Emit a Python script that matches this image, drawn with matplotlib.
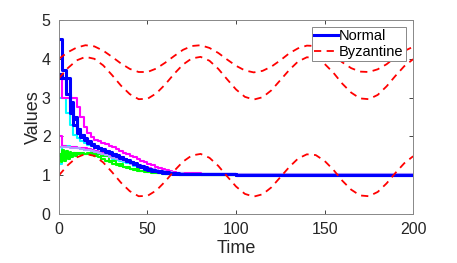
import matplotlib
matplotlib.use("Agg")
import matplotlib.pyplot as plt

plt.rcParams["font.family"] = ["Liberation Sans", "DejaVu Sans"]

# Byzantine agents: values every 5 time units
t_byz = list(range(0, 201, 5))
byz_top = [4.00, 4.17, 4.29, 4.35, 4.32, 4.21, 4.05, 3.88, 3.74, 3.66, 3.66, 3.75, 3.90, 4.07,
           4.23, 4.33, 4.35, 4.28, 4.15, 3.98, 3.82, 3.70, 3.65, 3.69, 3.80, 3.96, 4.14, 4.27,
           4.34, 4.33, 4.24, 4.09, 3.91, 3.76, 3.67, 3.66, 3.73, 3.86, 4.04, 4.20, 4.31]
byz_mid = [3.50, 3.76, 3.96, 4.05, 4.00, 3.83, 3.58, 3.31, 3.09, 2.96, 2.97, 3.11, 3.34, 3.61,
           3.85, 4.01, 4.05, 3.95, 3.74, 3.47, 3.21, 3.02, 2.95, 3.01, 3.19, 3.45, 3.71, 3.93,
           4.04, 4.02, 3.87, 3.64, 3.36, 3.13, 2.98, 2.96, 3.07, 3.29, 3.56, 3.81, 3.99]
byz_low = [1.00, 1.26, 1.46, 1.55, 1.50, 1.33, 1.08, 0.81, 0.59, 0.46, 0.47, 0.61, 0.84, 1.11,
           1.35, 1.51, 1.55, 1.45, 1.24, 0.97, 0.71, 0.52, 0.45, 0.51, 0.69, 0.95, 1.21, 1.43,
           1.54, 1.52, 1.37, 1.14, 0.86, 0.63, 0.48, 0.46, 0.57, 0.79, 1.06, 1.31, 1.49]

# Normal agents: step values (every 2 time units up to 70)
t_norm = list(range(0, 71, 2)) + [80, 100, 200]
blue_a = [4.5, 3.7, 3.1, 2.75, 2.45, 2.2, 2.05, 1.93, 1.86, 1.8,
          1.74, 1.70, 1.66, 1.62, 1.58, 1.54, 1.50, 1.46, 1.42, 1.38,
          1.34, 1.29, 1.25, 1.21, 1.17, 1.14, 1.12, 1.10, 1.08, 1.07,
          1.06, 1.05, 1.04, 1.04, 1.03, 1.03, 1.02, 1.01, 1.0]
blue_b = [3.6, 3.5, 3.1, 2.6, 2.3, 2.1, 1.98, 1.9, 1.84, 1.78,
          1.73, 1.69, 1.65, 1.61, 1.57, 1.53, 1.49, 1.45, 1.41, 1.37,
          1.33, 1.29, 1.25, 1.21, 1.18, 1.15, 1.13, 1.11, 1.09, 1.08,
          1.07, 1.06, 1.05, 1.04, 1.03, 1.02, 1.02, 1.01, 1.0]
blue_c = [3.5, 3.5, 3.5, 2.9, 2.5, 2.2, 2.05, 1.95, 1.87, 1.8,
          1.75, 1.71, 1.67, 1.63, 1.59, 1.55, 1.51, 1.47, 1.43, 1.39,
          1.35, 1.31, 1.27, 1.23, 1.2, 1.17, 1.14, 1.12, 1.1, 1.09,
          1.08, 1.07, 1.06, 1.05, 1.04, 1.03, 1.02, 1.01, 1.0]
magenta_a = [3.6, 3.0, 3.0, 3.0, 3.0, 2.75, 2.5, 2.24, 2.1, 1.98,
             1.92, 1.88, 1.84, 1.8, 1.76, 1.72, 1.68, 1.63, 1.58, 1.54,
             1.5, 1.46, 1.42, 1.38, 1.34, 1.3, 1.26, 1.22, 1.19, 1.16,
             1.13, 1.11, 1.09, 1.07, 1.06, 1.05, 1.03, 1.01, 1.0]
magenta_b = [2.0, 1.75, 1.74, 1.73, 1.72, 1.71, 1.70, 1.69, 1.67, 1.65,
             1.63, 1.6, 1.57, 1.54, 1.51, 1.48, 1.45, 1.42, 1.39, 1.36,
             1.33, 1.3, 1.27, 1.24, 1.21, 1.18, 1.16, 1.14, 1.12, 1.1,
             1.08, 1.07, 1.06, 1.05, 1.04, 1.03, 1.02, 1.01, 1.0]
cyan_a = [3.0, 3.0, 2.6, 2.3, 2.05, 1.95, 1.88, 1.83, 1.79, 1.75,
          1.71, 1.67, 1.63, 1.59, 1.55, 1.51, 1.47, 1.43, 1.39, 1.35,
          1.31, 1.28, 1.25, 1.22, 1.19, 1.16, 1.14, 1.12, 1.10, 1.08,
          1.07, 1.06, 1.05, 1.04, 1.03, 1.03, 1.02, 1.01, 1.0]
cyan_b = [1.3, 1.76, 1.75, 1.74, 1.72, 1.7, 1.68, 1.66, 1.64, 1.61,
          1.58, 1.55, 1.52, 1.49, 1.46, 1.43, 1.4, 1.37, 1.34, 1.31,
          1.28, 1.25, 1.22, 1.19, 1.17, 1.15, 1.13, 1.11, 1.09, 1.08,
          1.07, 1.06, 1.05, 1.04, 1.03, 1.02, 1.02, 1.01, 1.0]
purple = [1.74, 1.73, 1.72, 1.71, 1.70, 1.69, 1.68, 1.66, 1.64, 1.62,
          1.6, 1.57, 1.54, 1.51, 1.48, 1.45, 1.42, 1.39, 1.36, 1.33,
          1.3, 1.27, 1.24, 1.21, 1.19, 1.17, 1.15, 1.13, 1.11, 1.1,
          1.09, 1.08, 1.07, 1.06, 1.05, 1.04, 1.03, 1.02, 1.02]
green_b = [1.55, 1.52, 1.55, 1.56, 1.57, 1.57, 1.57, 1.56, 1.55, 1.53,
           1.5, 1.46, 1.42, 1.38, 1.34, 1.3, 1.27, 1.24, 1.21, 1.18,
           1.16, 1.14, 1.12, 1.1, 1.09, 1.08, 1.07, 1.06, 1.05, 1.04,
           1.03, 1.03, 1.02, 1.02, 1.01, 1.01, 1.0, 1.0, 1.0]
t_green = [0, 1, 2, 3, 4, 5, 6, 7, 8, 9, 10, 12, 16, 20, 24, 28, 32, 36, 40, 45, 50, 55,
           60, 66, 80, 200]
green_a = [1.5, 1.33, 1.65, 1.38, 1.62, 1.42, 1.6, 1.46, 1.58, 1.5, 1.56, 1.56, 1.57, 1.55,
           1.5, 1.38, 1.3, 1.22, 1.16, 1.12, 1.08, 1.05, 1.03, 1.02, 1.01, 1.0]

fig = plt.figure(figsize=(4.57, 2.63), dpi=100)
ax = fig.add_axes([0.129, 0.186, 0.775, 0.738])

step = dict(drawstyle="steps-post")
ax.plot(t_norm, cyan_a, color="#00ffff", lw=1.5, **step)
ax.plot(t_norm, cyan_b, color="#00ffff", lw=1.5, **step)
ax.plot(t_norm, magenta_a, color="#ff00ff", lw=1.5, **step)
ax.plot(t_norm, magenta_b, color="#ff00ff", lw=1.5, **step)
ax.plot(t_green, green_a, color="#00ff00", lw=1.5, **step)
ax.plot(t_norm, green_b, color="#00ff00", lw=1.5, **step)
ax.plot(t_norm, purple, color="#b09cff", lw=1.5, **step)
ax.plot(t_norm, blue_c, color="#0000ff", lw=2.2, **step)
ax.plot(t_norm, blue_b, color="#0000ff", lw=2.2, **step)
normal, = ax.plot(t_norm, blue_a, color="#0000ff", lw=2.2, **step)

byz = None
for vals in (byz_top, byz_mid, byz_low):
    byz, = ax.plot(t_byz, vals, color="#ff0000", lw=1.3, ls=(0, (4, 3)))

ax.set_xlim(0, 200)
ax.set_ylim(0, 5)
ax.set_xticks([0, 50, 100, 150, 200])
ax.set_yticks([0, 1, 2, 3, 4, 5])
ax.tick_params(direction="in", length=3, width=0.6, labelsize=11.5, colors="#262626",
               top=True, right=True, pad=6)
for s in ax.spines.values():
    s.set_color("#888888")
    s.set_linewidth(0.7)
ax.set_xlabel("Time", fontsize=13, color="#262626", labelpad=2)
ax.set_ylabel("Values", fontsize=13, color="#262626", labelpad=0)

leg = ax.legend([normal, byz], ["Normal", "Byzantine"], loc="upper right", fontsize=10.5,
                fancybox=False, framealpha=1, edgecolor="#888888", borderpad=0.15,
                handlelength=1.6, handletextpad=0.1, labelspacing=0.1, borderaxespad=0.5)
leg.get_frame().set_linewidth(0.7)

fig.savefig("out.png", dpi=100)
